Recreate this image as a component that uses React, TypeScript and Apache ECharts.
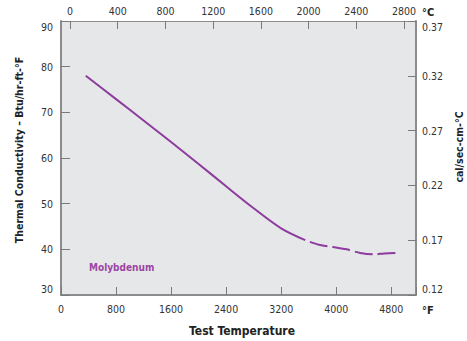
import React, { useEffect, useRef } from "react";
import * as echarts from "echarts";

// Test temperature (°F) and thermal conductivity (Btu/hr-ft-°F)
const solidTempF = [360, 800, 1200, 1600, 2000, 2400, 2800, 3200, 3550];
const solidCond = [78.0, 72.9, 68.2, 63.5, 58.7, 53.8, 49.0, 44.6, 42.0];
const dashedTempF = [3550, 3750, 3950, 4150, 4350, 4550, 4700, 4860];
const dashedCond = [42.0, 41.0, 40.5, 40.0, 39.2, 38.9, 39.1, 39.2];

const celsiusTicks = [0, 400, 800, 1200, 1600, 2000, 2400, 2800];
const calTicks = [0.12, 0.17, 0.22, 0.27, 0.32, 0.37];

const FONT = "'DejaVu Sans Condensed', 'DejaVu Sans', sans-serif";
const PURPLE = "#8d3b9e";
const AXIS = "#8c8c8c";
const TICK = "#7a7a7a";
const LABEL = "#333333";

export default function App() {
  const ref = useRef<HTMLDivElement>(null);
  useEffect(() => {
    if (!ref.current) return;
    const chart = echarts.init(ref.current, null, { renderer: "svg" });
    const labelBase = { fontFamily: FONT, fontSize: 10.5, color: LABEL };
    const rich = {
      lo: { ...labelBase, padding: [11, 0, 0, 0] },
      hi: { ...labelBase, padding: [0, 0, 12, 0] },
    };
    chart.setOption({
      animation: false,
      grid: {
        left: 61,
        right: 51,
        top: 21,
        bottom: 46,
        show: true,
        backgroundColor: "#e6e7e8",
        borderWidth: 0,
      },
      xAxis: [
        {
          type: "value",
          position: "bottom",
          min: 0,
          max: 5160,
          interval: 800,
          axisLine: { show: true, onZero: false, lineStyle: { color: AXIS, width: 2 } },
          axisTick: { show: true, inside: true, length: 8, lineStyle: { color: TICK } },
          axisLabel: {
            ...labelBase,
            margin: 8,
            formatter: (v: number) => (v % 800 === 0 ? String(v) : ""),
          },
          splitLine: { show: false },
        },
        {
          type: "value",
          position: "top",
          min: -75,
          max: 2900,
          axisLine: { show: true, onZero: false, lineStyle: { color: AXIS, width: 1 } },
          axisTick: {
            show: true,
            inside: true,
            length: 8,
            lineStyle: { color: TICK },
            customValues: celsiusTicks,
          },
          axisLabel: {
            ...labelBase,
            margin: 5,
            customValues: celsiusTicks,
            formatter: (v: number) => String(v),
          },
          splitLine: { show: false },
        },
      ],
      yAxis: [
        {
          type: "value",
          position: "left",
          min: 30,
          max: 90,
          interval: 10,
          axisLine: { show: true, onZero: false, lineStyle: { color: AXIS, width: 2 } },
          axisTick: { show: true, inside: true, length: 9, lineStyle: { color: TICK } },
          axisLabel: {
            ...labelBase,
            margin: 8,
            formatter: (v: number) =>
              v === 90 ? `{lo|${v}}` : v === 30 ? `{hi|${v}}` : String(v),
            rich,
          },
          splitLine: { show: false },
        },
        {
          type: "value",
          position: "right",
          min: 0.12,
          max: 0.37,
          axisLine: { show: true, onZero: false, lineStyle: { color: AXIS, width: 2 } },
          axisTick: {
            show: true,
            inside: true,
            length: 8,
            lineStyle: { color: TICK },
            customValues: calTicks,
          },
          axisLabel: {
            ...labelBase,
            margin: 6,
            customValues: calTicks,
            formatter: (v: number) => {
              const s = v.toFixed(2);
              if (Math.abs(v - 0.37) < 1e-6) return `{lo|${s}}`;
              if (Math.abs(v - 0.12) < 1e-6) return `{hi|${s}}`;
              return s;
            },
            rich,
          },
          splitLine: { show: false },
        },
      ],
      series: [
        {
          type: "line",
          xAxisIndex: 0,
          yAxisIndex: 0,
          data: solidTempF.map((t, i) => [t, solidCond[i]]),
          smooth: 0.3,
          showSymbol: false,
          lineStyle: { color: PURPLE, width: 2 },
        },
        {
          type: "line",
          xAxisIndex: 0,
          yAxisIndex: 0,
          data: dashedTempF.map((t, i) => [t, dashedCond[i]]),
          smooth: 0.3,
          showSymbol: false,
          lineStyle: { color: PURPLE, width: 2, type: [18, 5], dashOffset: 18 },
        },
      ],
      graphic: [
        {
          type: "text",
          x: 19,
          y: 150,
          rotation: Math.PI / 2,
          style: {
            text: "Thermal Conductivity – Btu/hr-ft-°F",
            fontFamily: FONT,
            fontSize: 10.5,
            fontWeight: "bold",
            fill: "#222",
            align: "center",
            verticalAlign: "middle",
          },
        },
        {
          type: "text",
          x: 459,
          y: 147,
          rotation: Math.PI / 2,
          style: {
            text: "cal/sec-cm-°C",
            fontFamily: FONT,
            fontSize: 10.5,
            fontWeight: "bold",
            fill: "#222",
            align: "center",
            verticalAlign: "middle",
          },
        },
        {
          type: "text",
          x: 242,
          y: 331,
          style: {
            text: "Test Temperature",
            fontFamily: FONT,
            fontSize: 12,
            fontWeight: "bold",
            fill: "#222",
            align: "center",
            verticalAlign: "middle",
          },
        },
        {
          type: "text",
          x: 422,
          y: 12,
          style: {
            text: "°C",
            fontFamily: FONT,
            fontSize: 11,
            fontWeight: "bold",
            fill: "#222",
            align: "left",
            verticalAlign: "middle",
          },
        },
        {
          type: "text",
          x: 422,
          y: 310,
          style: {
            text: "°F",
            fontFamily: FONT,
            fontSize: 11,
            fontWeight: "bold",
            fill: "#222",
            align: "left",
            verticalAlign: "middle",
          },
        },
        {
          type: "text",
          x: 89,
          y: 267,
          style: {
            text: "Molybdenum",
            fontFamily: FONT,
            fontSize: 10,
            fontWeight: "bold",
            fill: "#9b45a5",
            align: "left",
            verticalAlign: "middle",
          },
        },
      ],
    });
    return () => chart.dispose();
  }, []);
  return <div ref={ref} style={{ width: 467, height: 341, position: "absolute", left: 0, top: 0 }} />;
}
